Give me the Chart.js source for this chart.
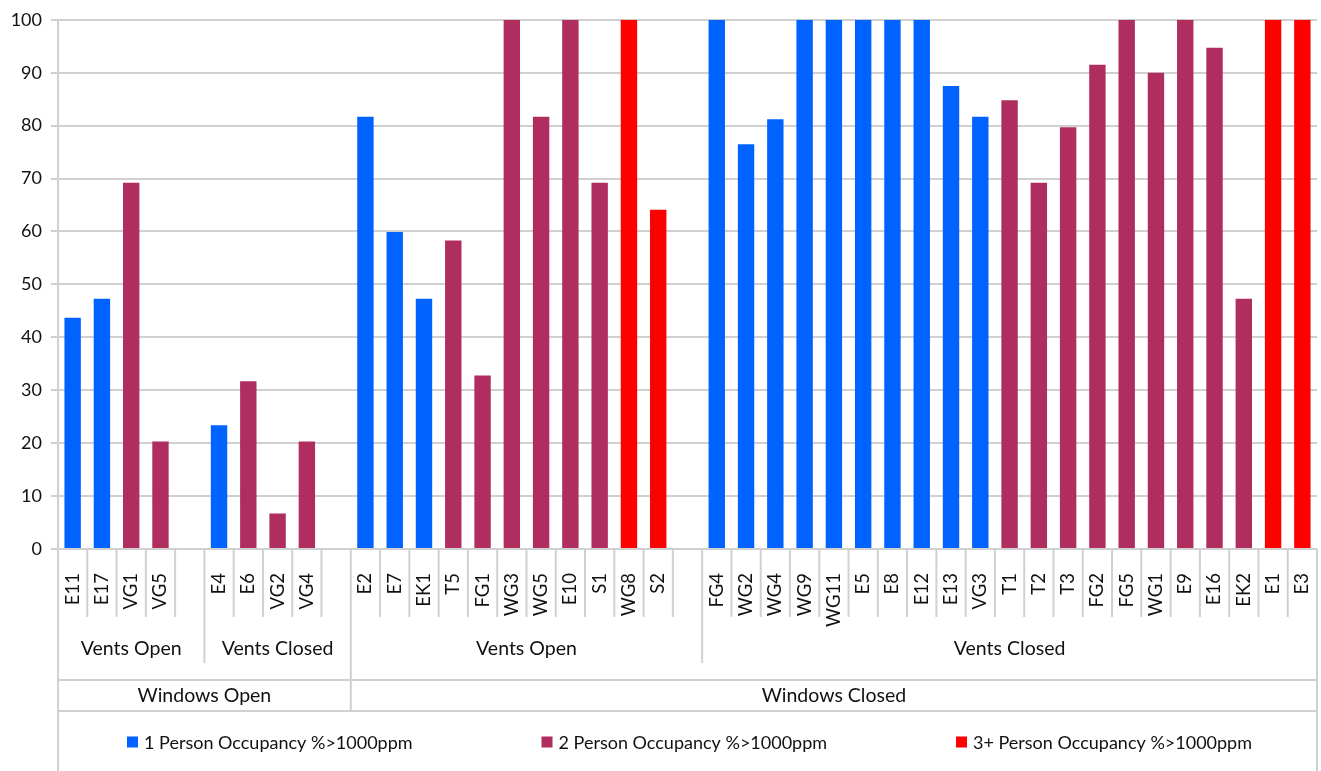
<!DOCTYPE html>
<html>
<head>
<meta charset="utf-8">
<script src="https://cdn.jsdelivr.net/npm/chart.js@4.4.1/dist/chart.umd.min.js"></script>
<style>
html,body{margin:0;padding:0;background:#fff;}
#wrap{width:1321px;height:771px;position:relative;}
</style>
</head>
<body>
<div id="wrap"><canvas id="c" width="1321" height="771"></canvas></div>
<script>
// ---- data ----
const categories = [
  'E11','E17','VG1','VG5','',
  'E4','E6','VG2','VG4','',
  'E2','E7','EK1','T5','FG1','WG3','WG5','E10','S1','WG8','S2','',
  'FG4','WG2','WG4','WG9','WG11','E5','E8','E12','E13','VG3','T1','T2','T3','FG2','FG5','WG1','E9','E16','EK2','E1','E3'
];
const onePerson = [
  43.7,47.3,null,null,null,
  23.4,null,null,null,null,
  81.7,59.9,47.3,null,null,null,null,null,null,null,null,null,
  100,76.5,81.2,100,100,100,100,100,87.5,81.7,null,null,null,null,null,null,null,null,null,null,null
];
const twoPerson = [
  null,null,69.2,20.3,null,
  null,31.7,6.7,20.3,null,
  null,null,null,58.3,32.8,100,81.7,100,69.2,null,null,null,
  null,null,null,null,null,null,null,null,null,null,84.8,69.2,79.7,91.5,100,90.0,100,94.7,47.3,null,null
];
const threePlus = [
  null,null,null,null,null,
  null,null,null,null,null,
  null,null,null,null,null,null,null,null,null,100,64.1,null,
  null,null,null,null,null,null,null,null,null,null,null,null,null,null,null,null,null,null,null,100,100
];
const seriesLabels = ['1 Person Occupancy %>1000ppm','2 Person Occupancy %>1000ppm','3+ Person Occupancy %>1000ppm'];
const yTicks = [0,10,20,30,40,50,60,70,80,90,100];
const ventGroups = [
  {label:'Vents Open', from:0, to:4},
  {label:'Vents Closed', from:5, to:9},
  {label:'Vents Open', from:10, to:21},
  {label:'Vents Closed', from:22, to:42}
];
const windowGroups = [
  {label:'Windows Open', from:0, to:9},
  {label:'Windows Closed', from:10, to:42}
];

// ---- styles ----
const colors = ['#0062FF','#B02D60','#FF0000'];
const gridColor = '#d0d0d0';
const textColor = '#111111';
const FONT = 'Lato, "Noto Sans", sans-serif';

const groupPlugin = {
  id: 'groupAxis',
  afterDraw(chart) {
    const {ctx, chartArea} = chart;
    const x = chart.scales.x;
    const n = categories.length;
    const half = (x.getPixelForValue(1) - x.getPixelForValue(0)) / 2;
    const edge = i => i < n ? x.getPixelForValue(i) - half : x.getPixelForValue(n - 1) + half;
    const yAxis = chartArea.bottom;
    const bottom = chart.height;
    const yTickEnd = yAxis + 68;
    const yVentEnd = yAxis + 114;
    const yRow1 = yAxis + 131;
    const yRow2 = yAxis + 162;
    const ventStarts = new Set(ventGroups.map(g => g.from));
    const winStarts = new Set(windowGroups.map(g => g.from));
    ctx.save();
    ctx.strokeStyle = gridColor;
    ctx.lineWidth = 2;
    const line = (x1, y1, x2, y2) => { ctx.beginPath(); ctx.moveTo(x1, y1); ctx.lineTo(x2, y2); ctx.stroke(); };
    for (let i = 0; i <= n; i++) {
      let y2 = yTickEnd;
      if (i === 0 || i === n) y2 = bottom;
      else if (winStarts.has(i)) y2 = yRow2;
      else if (ventStarts.has(i)) y2 = yVentEnd;
      line(edge(i), yAxis, edge(i), y2);
    }
    line(edge(0), yRow1, edge(n), yRow1);
    line(edge(0), yRow2, edge(n), yRow2);

    ctx.fillStyle = textColor;
    ctx.textAlign = 'center';
    ctx.textBaseline = 'middle';
    ctx.font = '19.5px ' + FONT;
    ventGroups.forEach(g => {
      ctx.fillText(g.label, (edge(g.from) + edge(g.to + 1)) / 2, yAxis + 100);
    });
    windowGroups.forEach(g => {
      ctx.fillText(g.label, (edge(g.from) + edge(g.to + 1)) / 2, yAxis + 147);
    });

    // legend
    ctx.font = '18px ' + FONT;
    ctx.textAlign = 'left';
    const box = 11, gapText = 6;
    const widths = chart.data.datasets.map(d => box + gapText + ctx.measureText(d.label).width);
    const span = 1125;
    const gap = (span - widths.reduce((a, b) => a + b, 0)) / (widths.length - 1);
    let cx = (edge(0) + edge(n)) / 2 - span / 2 + 2;
    const ly = yAxis + 193;
    chart.data.datasets.forEach((d, i) => {
      ctx.fillStyle = d.backgroundColor;
      ctx.fillRect(cx, ly - box / 2, box, box);
      ctx.fillStyle = textColor;
      ctx.fillText(d.label, cx + box + gapText, ly + 1);
      cx += widths[i] + gap;
    });
    ctx.restore();
  }
};

new Chart(document.getElementById('c'), {
  type: 'bar',
  data: {
    labels: categories,
    datasets: [
      {label: seriesLabels[0], data: onePerson, backgroundColor: colors[0]},
      {label: seriesLabels[1], data: twoPerson, backgroundColor: colors[1]},
      {label: seriesLabels[2], data: threePlus, backgroundColor: colors[2]}
    ]
  },
  options: {
    responsive: false,
    animation: false,
    devicePixelRatio: 1,
    layout: {padding: {top: 18, right: 4, left: 0, bottom: 0}},
    datasets: {bar: {categoryPercentage: 1.0, barPercentage: 0.56}},
    plugins: {legend: {display: false}, tooltip: {enabled: false}},
    scales: {
      x: {
        stacked: true,
        afterFit: s => { s.height = 222; s.paddingRight = 0; s.paddingLeft = 0; },
        grid: {display: false},
        border: {display: false},
        ticks: {
          autoSkip: false, minRotation: 90, maxRotation: 90, padding: 16,
          color: textColor, font: {family: FONT, size: 18.5}
        }
      },
      y: {
        stacked: true,
        min: 0, max: 100,
        afterFit: s => { s.width = 58; },
        afterBuildTicks: s => { s.ticks = yTicks.map(v => ({value: v})); },
        grid: {color: gridColor, lineWidth: 2, tickLength: 7},
        border: {display: true, color: gridColor, width: 2},
        ticks: {padding: 9, color: textColor, font: {family: FONT, size: 18}}
      }
    }
  },
  plugins: [groupPlugin]
});
</script>
</body>
</html>
